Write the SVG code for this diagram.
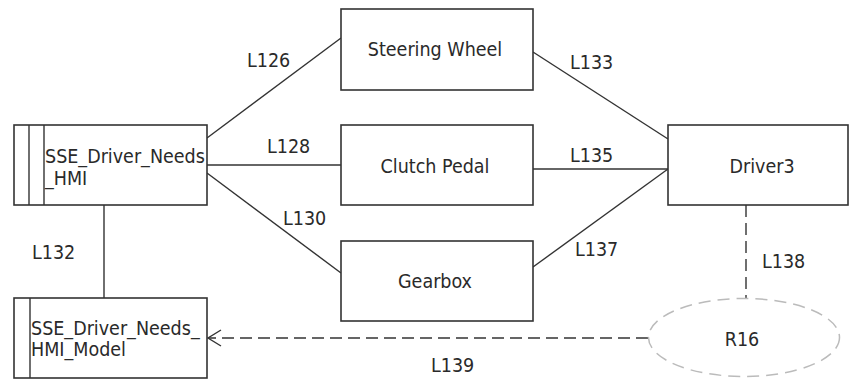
<svg xmlns="http://www.w3.org/2000/svg" width="849" height="379" viewBox="0 0 849 379">
<style>
text{font-family:"DejaVu Sans Condensed","DejaVu Sans",sans-serif;font-stretch:condensed;font-size:19.5px;fill:#2a2a2a}
.box{fill:#fff;stroke:#333;stroke-width:1.6}
.ln{stroke:#333;stroke-width:1.4;fill:none}
.dash{stroke:#333;stroke-width:1.4;fill:none;stroke-dasharray:12 6}
.c{text-anchor:middle}
</style>
<rect width="849" height="379" fill="#fff"/>
<g id="connectors">
<line id="L126" class="ln" x1="207" y1="138" x2="341" y2="38"/>
<line id="L128" class="ln" x1="207" y1="165" x2="341" y2="165"/>
<line id="L130" class="ln" x1="207" y1="173" x2="341" y2="273"/>
<line id="L133" class="ln" x1="533" y1="52" x2="668" y2="139"/>
<line id="L135" class="ln" x1="533" y1="169" x2="668" y2="169"/>
<line id="L137" class="ln" x1="533" y1="267" x2="668" y2="169"/>
<line id="L132" class="ln" x1="104" y1="205" x2="104" y2="298"/>
<line id="L138" class="dash" x1="746" y1="205" x2="746" y2="298"/>
<line id="L139" class="dash" x1="648" y1="338" x2="209" y2="338"/>
<polyline class="ln" points="221,330 208,338 221,346"/>
<text x="247" y="67">L126</text>
<text x="267" y="153">L128</text>
<text x="283" y="225">L130</text>
<text x="570" y="69">L133</text>
<text x="570" y="162">L135</text>
<text x="575" y="256">L137</text>
<text x="32" y="259">L132</text>
<text x="762" y="268">L138</text>
<text x="431" y="372">L139</text>
</g>
<g id="hmi">
<rect class="box" x="14" y="125" width="193" height="80"/>
<line class="ln" x1="29" y1="125" x2="29" y2="205"/>
<line class="ln" x1="44" y1="125" x2="44" y2="205"/>
<text x="45" y="163">SSE_Driver_Needs</text>
<text x="45" y="185">_HMI</text>
</g>
<g id="hmi_model">
<rect class="box" x="14" y="298" width="193" height="80"/>
<line class="ln" x1="30" y1="298" x2="30" y2="378"/>
<text x="31" y="335">SSE_Driver_Needs_</text>
<text x="31" y="356">HMI_Model</text>
</g>
<g id="steering">
<rect class="box" x="341" y="9" width="192" height="81"/>
<text class="c" x="435" y="56">Steering Wheel</text>
</g>
<g id="clutch">
<rect class="box" x="341" y="125" width="192" height="80"/>
<text class="c" x="435" y="173">Clutch Pedal</text>
</g>
<g id="gearbox">
<rect class="box" x="341" y="241" width="192" height="80"/>
<text class="c" x="435" y="288">Gearbox</text>
</g>
<g id="driver3">
<rect class="box" x="668" y="125" width="180" height="80"/>
<text class="c" x="762" y="173">Driver3</text>
</g>
<g id="r16">
<ellipse cx="744" cy="337.5" rx="95.5" ry="39" fill="#fff" stroke="#bbb" stroke-width="1.5" stroke-dasharray="12 7"/>
<text class="c" x="742" y="346">R16</text>
</g>
</svg>
